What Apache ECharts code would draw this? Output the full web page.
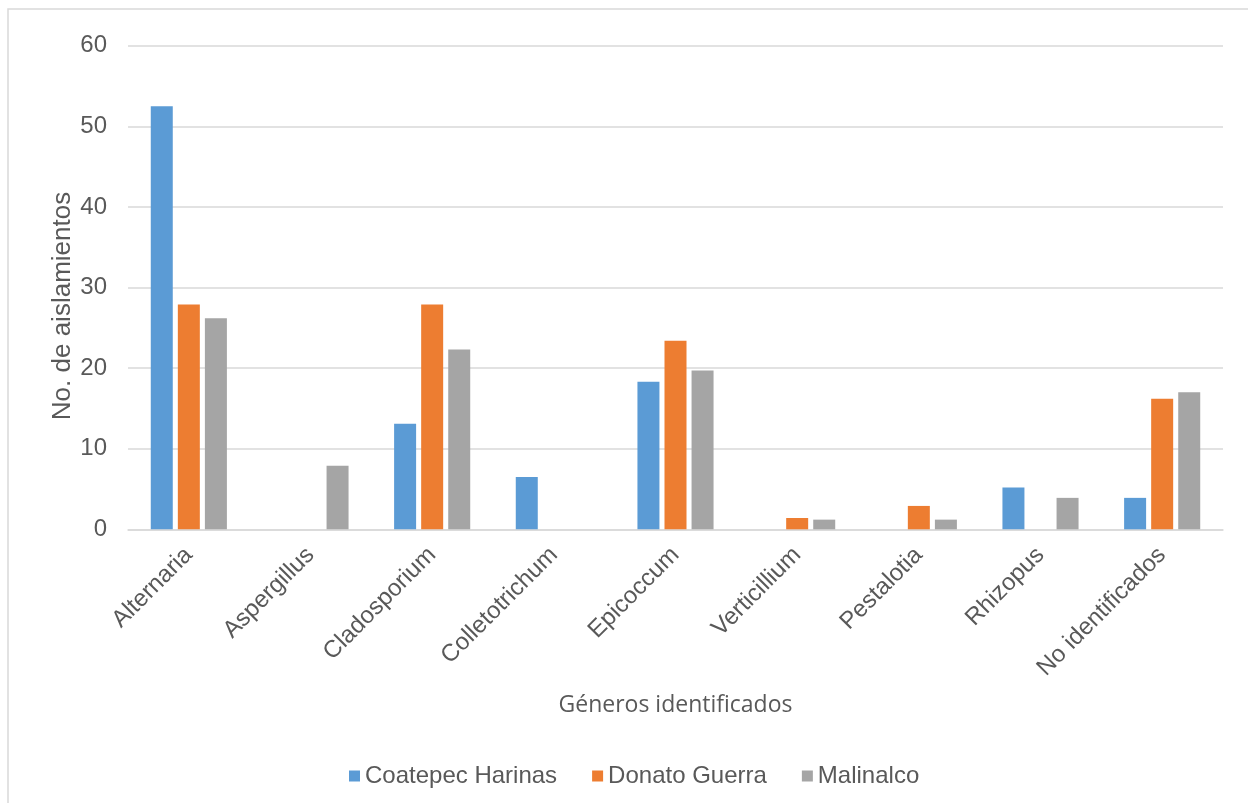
<!DOCTYPE html>
<html>
<head>
<meta charset="utf-8">
<script src="https://cdn.jsdelivr.net/npm/echarts@6/dist/echarts.min.js"></script>
<style>
  html, body { margin: 0; padding: 0; background: #ffffff; }
  #chart { width: 1248px; height: 803px; }
</style>
</head>
<body>
<div id="chart"></div>
<script>
// Fungal genera isolated per locality
const categories = ['Alternaria', 'Aspergillus', 'Cladosporium', 'Colletotrichum', 'Epicoccum', 'Verticillium', 'Pestalotia', 'Rhizopus', 'No identificados'];
const seriesNames = ['Coatepec Harinas', 'Donato Guerra', 'Malinalco'];
const coatepec = [52.5, 0, 13.1, 6.5, 18.3, 0, 0, 5.2, 3.9];
const donato   = [27.9, 0, 27.9, 0, 23.4, 1.4, 2.9, 0, 16.2];
const malinalco = [26.2, 7.9, 22.3, 0, 19.7, 1.2, 1.2, 3.9, 17.0];
const colors = ['#5B9BD5', '#ED7D31', '#A5A5A5'];
const yTitle = 'No. de aislamientos';
const xTitle = 'Géneros identificados';

const textColor = '#595959';
const font = 'Liberation Sans, Arial, sans-serif';

const chart = echarts.init(document.getElementById('chart'), null, { renderer: 'canvas' });

function bar(name, data, color) {
  return {
    name: name,
    type: 'bar',
    data: data,
    barWidth: 22,
    barGap: '23%',
    itemStyle: { color: color },
    emphasis: { disabled: true }
  };
}

chart.setOption({
  animation: false,
  backgroundColor: '#ffffff',
  graphic: [{
    type: 'rect',
    shape: { x: 8, y: 9, width: 1260, height: 820 },
    style: { fill: 'none', stroke: '#d9d9d9', lineWidth: 1.5 },
    silent: true,
    z: -1
  }, {
    // vertical axis title, sitting a little below the plot's middle
    type: 'text',
    x: 63,
    y: 306,
    rotation: Math.PI / 2,
    silent: true,
    style: {
      text: yTitle,
      fill: textColor,
      font: '26px ' + font,
      align: 'center',
      verticalAlign: 'middle'
    }
  }],
  grid: { left: 128, right: 25, top: 45.7, bottom: 273.7, containLabel: false },
  legend: {
    data: seriesNames,
    left: 344,
    top: 759,
    itemWidth: 11,
    itemHeight: 11,
    itemGap: 35,
    icon: 'rect',
    textStyle: { color: textColor, fontFamily: font, fontSize: 24, padding: [0, 0, 0, 0] }
  },
  xAxis: {
    type: 'category',
    data: categories,
    name: xTitle,
    nameLocation: 'middle',
    nameGap: 165,
    nameTextStyle: { color: textColor, fontFamily: 'Open Sans, Noto Sans, sans-serif', fontSize: 23 },
    axisLine: { lineStyle: { color: '#d9d9d9', width: 1.5 } },
    axisTick: { show: false },
    axisLabel: {
      rotate: 45,
      margin: 22,
      color: textColor,
      fontFamily: font,
      fontSize: 24,
      interval: 0
    }
  },
  yAxis: {
    type: 'value',
    min: 0,
    max: 60,
    interval: 10,
    axisLine: { show: false },
    axisTick: { show: false },
    axisLabel: { color: textColor, fontFamily: font, fontSize: 24, margin: 21 },
    splitLine: { lineStyle: { color: '#d9d9d9', width: 1.5 } }
  },
  series: [
    bar(seriesNames[0], coatepec, colors[0]),
    bar(seriesNames[1], donato, colors[1]),
    bar(seriesNames[2], malinalco, colors[2])
  ]
});
</script>
</body>
</html>
